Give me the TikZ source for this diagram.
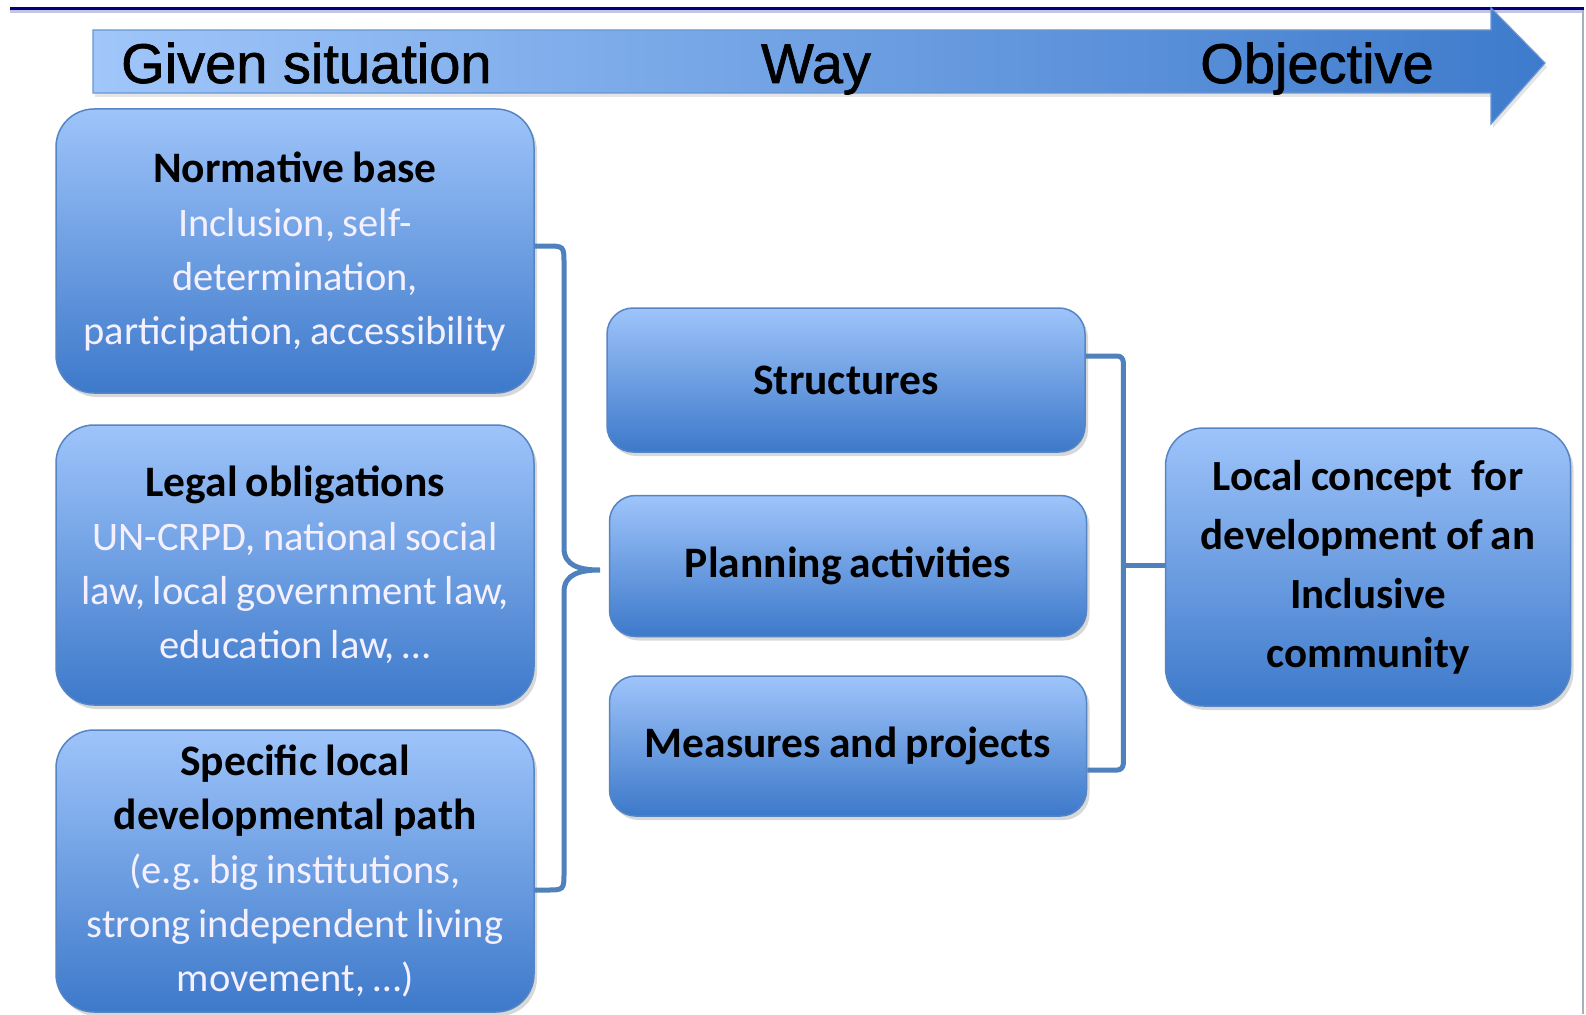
\documentclass[tikz,border=0pt]{standalone}
\usepackage{fontspec}
\setmainfont{Carlito}
\newfontfamily\arialfont[FakeBold=1.2]{Liberation Sans}
\usetikzlibrary{shadows,calc}
\definecolor{boxtop}{HTML}{9EC4FA}
\definecolor{boxbot}{HTML}{3D79CA}
\definecolor{boxedge}{HTML}{5585C4}
\definecolor{brk}{HTML}{4F81BD}
\definecolor{navyline}{HTML}{000080}
\definecolor{lavline}{HTML}{C4C4E4}
\definecolor{bodytxt}{HTML}{F4F0FF}
\definecolor{arrowL}{HTML}{A0C6FA}
\definecolor{arrowR}{HTML}{3E7BCC}
\definecolor{arrowedge}{HTML}{6A96D2}
\definecolor{edgegray}{HTML}{A8AEBA}
\newcommand{\tightsp}{\frenchspacing\spaceskip=0.19em\relax\xspaceskip=0.19em\relax}
\tikzset{
  panel/.style={draw=boxedge, line width=1.5pt, rounded corners=38pt,
    top color=boxtop, bottom color=boxbot,
    drop shadow={shadow xshift=3pt, shadow yshift=-4pt, opacity=0.3},
    align=center, inner sep=0pt, text width=470pt, text=bodytxt,
    execute at begin node=\tightsp,
    font=\fontsize{40.5}{54}\selectfont},
  waybox/.style={panel, rounded corners=26pt, text=black,
    font=\fontsize{43.5}{54}\selectfont\bfseries},
  bracket/.style={draw=brk, line width=5pt},
  headtext/.style={font=\arialfont\fontsize{56}{60}\selectfont, text=black, inner sep=0pt},
}
\newcommand{\ttl}[1]{\textcolor{black}{\fontsize{43.5}{57}\selectfont\bfseries\tightsp #1}}
\begin{document}
\begin{tikzpicture}[x=1pt,y=-1pt]
\useasboundingbox[fill=white] (0,0) rectangle (1586,1014);
% top rule and right edge
\draw[navyline, line width=3pt] (10,8.5) -- (1584,8.5);
\draw[lavline, line width=2.5pt] (10,11.3) -- (1584,11.3);
\draw[edgegray, line width=2pt] (1583,10) -- (1583,1014);
% header arrow
\path[draw=arrowedge, line width=1.2pt, left color=arrowL, right color=arrowR,
  drop shadow={shadow xshift=2pt, shadow yshift=-4pt, opacity=0.2}]
  (93,30) -- (1491,30) -- (1491,8) -- (1545,63) -- (1491,124) -- (1491,93) -- (93,93) -- cycle;
\node[headtext, anchor=base west] (given) at (121,83) {Given situation};
\node[headtext, anchor=base] (way) at (816,83) {Way};
\node[headtext, anchor=base] (objective) at (1317,83) {Objective};
% left column
\node[panel, minimum width=478pt, minimum height=284pt] (norm) at (295,251)
  {\ttl{Normative base}\\Inclusion, self-\\determination,\\participation, accessibility};
\node[panel, minimum width=478pt, minimum height=280pt] (legal) at (295,565)
  {\ttl{Legal obligations}\\UN-CRPD, national social\\law, local government law,\\education law, \dots};
\node[panel, minimum width=478pt, minimum height=282pt] (spec) at (295,871)
  {\ttl{Specific local}\\\ttl{developmental path}\\(e.g. big institutions,\\strong independent living\\movement, \dots)};
% middle column
\node[waybox, minimum width=478pt, minimum height=144pt] (struct) at (846,380) {Structures};
\node[waybox, minimum width=477pt, minimum height=141pt] (plan) at (848,566) {Planning activities};
\node[waybox, minimum width=477pt, minimum height=140pt] (meas) at (848,746) {Measures and projects};
% right box
\node[panel, minimum width=405pt, minimum height=278pt, text width=400pt, text=black,
  font=\fontsize{43}{59}\selectfont\bfseries] (local) at (1368,567)
  {Local concept\hspace{0.45em}for\\development of an\\Inclusive\\community};
% left brace
\coordinate (tipL) at (600,570);
\draw[bracket] ($(norm.east)+(0,-5)$) -- (546,246) .. controls (564,246) .. (564,264)
  -- (564,548) .. controls (564,566) and (580,570) .. (tipL)
  .. controls (580,570) and (564,574) .. (564,592)
  -- (564,872) .. controls (564,890) .. (546,890) -- ($(spec.east)+(0,19)$);
% right bracket
\draw[bracket, rounded corners=6pt] ($(struct.east)+(0,-24)$) -| ($(meas.east)+(36,24)$) -- ($(meas.east)+(0,24)$);
\coordinate (rj) at (1122,565);
\draw[bracket] (rj) -- (local.west |- rj);
\end{tikzpicture}
\end{document}
